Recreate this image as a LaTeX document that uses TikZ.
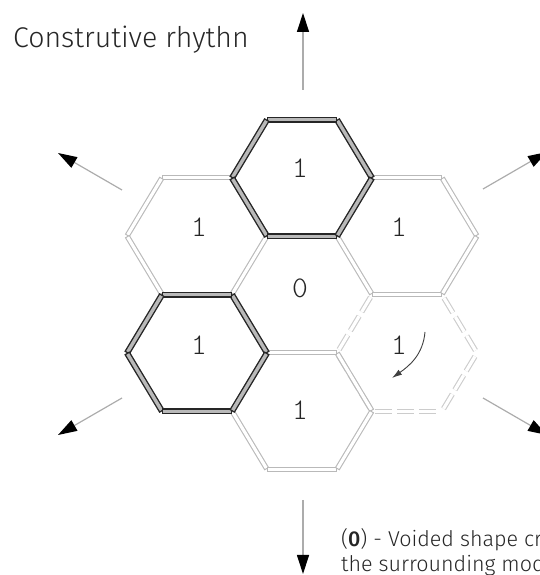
\documentclass[tikz,border=0pt]{standalone}
\usepackage{fontspec}
\setmainfont{Fira Sans Light}[BoldFont={Fira Sans Medium}]
\newfontfamily\digitfont{Latin Modern Mono Light}
\usetikzlibrary{arrows.meta}

\begin{document}
\begin{tikzpicture}[x=1pt, y=1pt,
  wall/.style={line width=1.1pt, double=white, double distance=3.2pt, line cap=rect, shorten <=3pt, shorten >=3pt},
  lightwall/.style={wall, draw=gray!55},
  dashwall/.style={wall, draw=gray!40, line cap=butt, dash pattern=on 17pt off 5pt},
  darkwall/.style={wall, draw=black!85, line width=1.4pt, double=gray!55, double distance=3.4pt},
  ray/.style={draw=gray!65, line width=1.2pt, -{Triangle[length=19pt, width=12pt, color=black]}},
  digit/.style={font=\digitfont\fontsize{30}{30}\selectfont, text=black!85, inner sep=0pt}]
  \useasboundingbox (0,0) rectangle (540,575);
  \clip (0,0) rectangle (540,575);
  % module centres round the void in the middle
  \coordinate (c0) at (302,280.5);
  \coordinate (ht) at (302,397); \coordinate (hb) at (302,164);
  \coordinate (ul) at (197,339); \coordinate (ll) at (197,222);
  \coordinate (ur) at (407,339); \coordinate (lr) at (407,222);
  % walls: the turning module first, dark ones last
  \foreach \h/\w in {lr/dashwall, ul/lightwall, ur/lightwall, hb/lightwall, ht/darkwall, ll/darkwall}
    \foreach \a in {0,60,...,300}
      \draw[\w, shift={(\h)}] (\a:70 and 67.3) -- (\a+60:70 and 67.3);
  \node[digit] (m0) at (300,287) {0};
  \node[digit] (mt) at (300,407) {1};
  \node[digit] (mul) at (199,348) {1};
  \node[digit] (mur) at (399,348) {1};
  \node[digit] (mll) at (199,230) {1};
  \node[digit] (mlr) at (399,230) {1};
  \node[digit] (mb) at (300,165) {1};
  % turning arrow in the dashed module
  \coordinate (rotA) at (425,243); \coordinate (rotB) at (392,197);
  \draw[draw=black!75, line width=0.9pt, -{Latex[length=10pt, width=6pt]}] (rotA) to[out=-95, in=35] (rotB);
  % growth in six directions
  \foreach \s/\e in {{303,485}/{303,562}, {122,385}/{58,422}, {483,386}/{547,423},
                     {122,177}/{58,140}, {483,177}/{547,140}, {303,75}/{303,1}}
    \draw[ray] (\s) -- (\e);
  \node[anchor=base west, inner sep=0pt, font=\fontsize{28.5}{30}\selectfont, text=black!85] (title) at (13,527) {Construtive rhythn};
  \node[anchor=base west, inner sep=0pt, font=\fontsize{21.5}{25}\selectfont, text=black!85] (note1) at (341,28) {(\textbf{0}) - Voided shape cr};
  \node[anchor=base west, inner sep=0pt, font=\fontsize{21.5}{25}\selectfont, text=black!85] (note2) at (341,3) {the surrounding mod};
\end{tikzpicture}
\end{document}
